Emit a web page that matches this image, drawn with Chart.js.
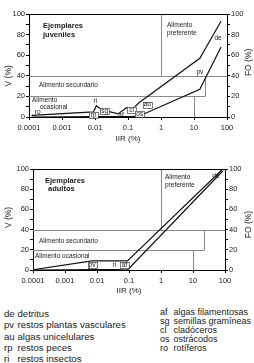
<!DOCTYPE html>
<html lang="es">
<head>
<meta charset="utf-8">
<title>IIR - V - FO</title>
<script src="https://cdn.jsdelivr.net/npm/chart.js@4.4.1/dist/chart.umd.min.js"></script>
<style>
  body { margin: 0; width: 254px; height: 363px; position: relative; overflow: hidden; background: #fff;
         font-family: 'Liberation Sans', Arial, sans-serif; color: #1a1a1a; }
  canvas { position: absolute; left: 0; }
  #grafico_0 { top: 0; }
  #grafico_1 { top: 150px; }
  .leyenda { position: absolute; white-space: nowrap; }
  #leyIzq { font-size: 9.6px; }
  #leyDer { font-size: 9px; }
  #leyIzq div { height: 11.3px; line-height: 11.3px; }
  #leyDer div { height: 9px; line-height: 9px; }
  .leyenda span { display: inline-block; }
  #leyIzq span { width: 13.5px; }
  #leyDer span { width: 13.5px; }
</style>
</head>
<body>
<canvas id="grafico_0" width="254" height="150"></canvas>
<canvas id="grafico_1" width="254" height="148"></canvas>
<div class="leyenda" id="leyIzq" style="left:4px; top:308px"></div>
<div class="leyenda" id="leyDer" style="left:160px; top:308px"></div>
<script>
const ticksIIR = [0.0001, 0.001, 0.01, 0.1, 1, 10, 100]

// ejemplares juveniles
const presasJuv = ['ro', 'rp', 'ri', 'sg', 'af', 'cl', 'os', 'au', 'pv', 'de']
const iirJuv = [0.00012, 0.009, 0.011, 0.016, 0.05, 0.09, 0.13, 0.22, 15, 66]
const foJuv = [1.5, 5, 11, 7, 3, 9, 7, 14, 57, 93]
const vJuv = [0, 0.5, 0.5, 0.5, 0.3, 0.5, 0.5, 1, 27, 68]

// ejemplares adultos
const presasAdu = ['rp', 'pv', 'ri', 'af', 'de']
const iirAdu = [0.00011, 0.007, 0.04, 0.09, 85]
const foAdu = [0.5, 9, 9, 9, 100]
const vAdu = [0, 0.3, 0.3, 0, 98]

// limites de alimento preferente / secundario / ocasional
const limitesV = [20, 40]
const limitesIIR = [1, 10, 22]

const leyendaIzq = [['de', 'detritus'], ['pv', 'restos plantas vasculares'], ['au', 'algas unicelulares'], ['rp', 'restos peces'], ['ri', 'restos insectos']]
const leyendaDer = [['af', 'algas filamentosas'], ['sg', 'semillas gramíneas'], ['cl', 'cladóceros'], ['os', 'ostrácodos'], ['ro', 'rotíferos']]

const FUENTE = '"Liberation Sans", Arial, sans-serif'

function texto(ctx, s, x, y, tam, negrita, alinear) {
  ctx.font = (negrita ? 'bold ' : '') + tam + 'px ' + FUENTE
  ctx.textAlign = alinear || 'left'
  ctx.textBaseline = 'middle'
  ctx.fillText(s, x, y)
}

function decoracion(d) {
  return {
    id: 'decoracion',
    beforeDatasetsDraw(chart) {
      const { ctx, chartArea: a, scales } = chart
      const x = v => Math.round(scales.x.getPixelForValue(v)) + 0.5
      const y = v => Math.round(scales.y.getPixelForValue(v)) + 0.5
      ctx.save()
      ctx.strokeStyle = '#8a8a8a'
      ctx.lineWidth = 1
      ctx.beginPath()
      ctx.moveTo(a.left, y(limitesV[1])); ctx.lineTo(a.right, y(limitesV[1]))
      ctx.moveTo(a.left, y(limitesV[0])); ctx.lineTo(x(limitesIIR[2]), y(limitesV[0]))
      ctx.lineTo(x(limitesIIR[2]), y(limitesV[1]))
      ctx.moveTo(x(limitesIIR[1]), y(limitesV[0])); ctx.lineTo(x(limitesIIR[1]), y(0))
      ctx.moveTo(x(limitesIIR[0]), y(limitesV[1])); ctx.lineTo(x(limitesIIR[0]), y(100))
      ctx.stroke()
      ctx.restore()
    },
    afterDraw(chart) {
      const { ctx, chartArea: a, scales } = chart
      const x = v => scales.x.getPixelForValue(v)
      const y = v => scales.y.getPixelForValue(v)
      ctx.save()
      // borde superior
      ctx.strokeStyle = '#000'
      ctx.lineWidth = 1
      ctx.beginPath()
      ctx.moveTo(a.left, Math.round(a.top) + 0.5); ctx.lineTo(a.right, Math.round(a.top) + 0.5)
      ctx.stroke()
      ctx.fillStyle = '#1a1a1a'
      // titulo
      texto(ctx, 'Ejemplares', a.left + d.tituloDx, y(d.tituloV[0]), 7.5, true)
      texto(ctx, d.titulo, a.left + d.tituloDx + d.tituloDx2, y(d.tituloV[1]), 7.5, true)
      // zonas
      d.zonas.forEach(z => {
        const px = z[1] === 'iir1' ? x(limitesIIR[0]) + z[2] : a.left + z[2]
        texto(ctx, z[0], px, y(z[3]), 6.5, false)
      })
      // titulos de ejes
      texto(ctx, 'IIR (%)', (a.left + a.right) / 2, a.bottom + d.iirDy, 8, false, 'center')
      ctx.save()
      ctx.translate(9, a.top + (a.bottom - a.top) * d.posV)
      ctx.rotate(-Math.PI / 2)
      texto(ctx, 'V (%)', 0, 0, 8.5, false, 'center')
      ctx.restore()
      ctx.save()
      ctx.translate(249, a.top + (a.bottom - a.top) * d.posFO)
      ctx.rotate(-Math.PI / 2)
      texto(ctx, 'FO (%)', 0, 0, 8.5, false, 'center')
      ctx.restore()
      // rotulos de presas
      const meta = chart.getDatasetMeta(0)
      ctx.lineWidth = 0.7
      ctx.strokeStyle = '#444'
      d.presas.forEach((p, i) => {
        const r = d.rotulos[p]
        if (!r) return
        const el = meta.data[i]
        const cx = el.x + r[0], cy = el.y + r[1]
        if (d.cajas.includes(p)) {
          ctx.fillStyle = '#fff'
          ctx.fillRect(cx - 4.5, cy - 3, 9, 6)
          ctx.strokeRect(Math.round(cx - 4.5) + 0.5, Math.round(cy - 3) + 0.5, 9, 6)
          ctx.fillStyle = '#1a1a1a'
        }
        texto(ctx, p, cx, cy, 6.5, false, 'center')
      })
      ctx.restore()
    }
  }
}

function creaGrafico(id, d) {
  const ctx = document.getElementById(id).getContext('2d')
  const puntos = (xs, ys) => xs.map((v, i) => ({ x: v, y: ys[i] }))
  const linea = { borderColor: '#111', borderWidth: 1.2, pointRadius: 0, tension: 0, fill: false }
  const fuenteTicks = { family: FUENTE, size: 7.5 }
  const ejeY = (pos, ancho) => ({
    type: 'linear', position: pos, min: 0, max: 100,
    afterFit: s => { s.width = ancho },
    ticks: { stepSize: 10, autoSkip: false, padding: 1, color: '#1a1a1a', font: fuenteTicks,
             callback: v => (v % 20 === 0 ? v : '') },
    grid: { drawOnChartArea: false, drawTicks: true, tickLength: 3, color: '#000' },
    border: { color: '#000', width: 1 }
  })
  return new Chart(ctx, {
    type: 'line',
    data: {
      datasets: [
        { label: 'FO (%)', data: puntos(d.iir, d.fo), yAxisID: 'y1', ...linea },
        { label: 'V (%)', data: puntos(d.iir, d.v), yAxisID: 'y', ...linea }
      ]
    },
    options: {
      responsive: false,
      animation: false,
      devicePixelRatio: 1,
      layout: { padding: { top: d.arriba, left: 0, right: 0, bottom: 0 } },
      plugins: { legend: { display: false }, tooltip: { enabled: false } },
      scales: {
        x: {
          type: 'logarithmic', position: 'bottom', min: 0.0001, max: 100,
          afterFit: s => { s.height = d.altoX },
          afterBuildTicks: s => { s.ticks = ticksIIR.map(v => ({ value: v })) },
          ticks: { autoSkip: false, maxRotation: 0, padding: 3, color: '#1a1a1a', font: fuenteTicks,
                   callback: v => String(v) },
          grid: { drawOnChartArea: false, drawTicks: true, tickLength: 3, color: '#000' },
          border: { color: '#000', width: 1 }
        },
        y: ejeY('left', d.izq),
        y1: ejeY('right', d.der)
      }
    },
    plugins: [decoracion(d)]
  })
}

creaGrafico('grafico_0', {
  presas: presasJuv, iir: iirJuv, fo: foJuv, v: vJuv,
  arriba: 14, altoX: 33, izq: 29, der: 27,
  titulo: 'juveniles', tituloDx: 14, tituloDx2: 0, tituloV: [88, 79.5],
  zonas: [['Alimento', 'iir1', 6, 89], ['preferente', 'iir1', 6, 81],
          ['Alimento secundario', 'izq', 10, 31],
          ['Alimento', 'izq', 3, 16.5], ['ocasional', 'izq', 11, 9.5]],
  iirDy: 22, posV: 0.6, posFO: 0.47,
  rotulos: { ro: [6, -3], rp: [0, 3], ri: [-1, -4], sg: [3, 1], af: [3, 1], cl: [5, 2],
             os: [8, 4], au: [8, 2], pv: [0, 14], de: [-3, 17] },
  cajas: ['rp', 'sg', 'cl', 'os', 'au']
})

creaGrafico('grafico_1', {
  presas: presasAdu, iir: iirAdu, fo: foAdu, v: vAdu,
  arriba: 19, altoX: 28, izq: 33, der: 29,
  titulo: 'adultos', tituloDx: 12, tituloDx2: 3, tituloV: [88, 80],
  zonas: [['Alimento', 'iir1', 4, 92], ['preferente', 'iir1', 4, 84],
          ['Alimento secundario', 'izq', 6, 29],
          ['Alimento ocasional', 'izq', 2, 14]],
  iirDy: 21, posV: 0.48, posFO: 0.55,
  rotulos: { pv: [0, 4], ri: [-2, 4], af: [-3, 4], de: [-7, 7] },
  cajas: ['pv', 'af']
})

function creaLeyenda(id, filas) {
  const caja = document.getElementById(id)
  filas.forEach(f => {
    const div = document.createElement('div')
    const abr = document.createElement('span')
    abr.textContent = f[0]
    div.appendChild(abr)
    div.appendChild(document.createTextNode(f[1]))
    caja.appendChild(div)
  })
}
creaLeyenda('leyIzq', leyendaIzq)
creaLeyenda('leyDer', leyendaDer)
</script>
</body>
</html>
